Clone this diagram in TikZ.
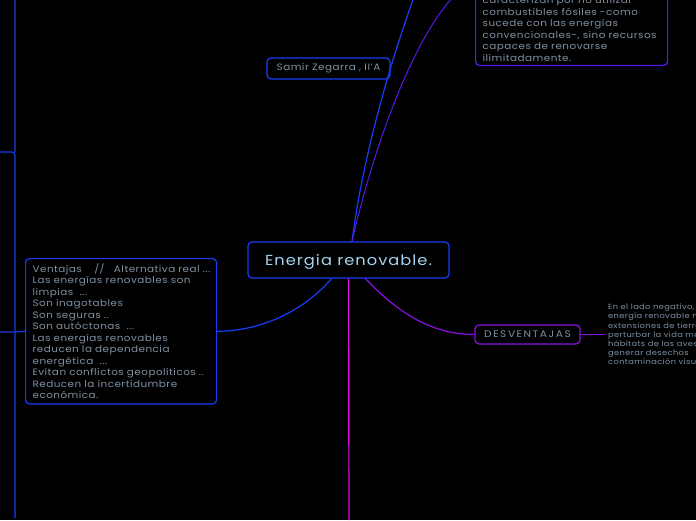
\documentclass[tikz,border=0pt]{standalone}
\usepackage{fontspec}
\setmainfont{Poppins}[FakeStretch=1.12, LetterSpace=5]
\newfontfamily\widefont{Poppins}[FakeStretch=1.12, LetterSpace=16]
\newfontfamily\mainfont{Poppins}[FakeStretch=1.12, LetterSpace=7]
\definecolor{cblue}{RGB}{22,62,250}
\definecolor{cdark}{RGB}{22,36,150}
\definecolor{cviolet}{RGB}{88,24,235}
\definecolor{cpurple}{RGB}{140,16,225}
\definecolor{cmag}{RGB}{228,12,228}
\definecolor{ctext}{RGB}{128,146,162}
\definecolor{cmain}{RGB}{165,212,240}
\begin{document}
\begin{tikzpicture}[x=1pt,y=-1pt,
  box/.style={draw, line width=1.2pt, rounded corners=4pt, fill=black, text=ctext, font=\fontsize{9.3}{11.5}\selectfont},
  blk/.style={align=left, inner xsep=7pt, inner ysep=5pt},
  conn/.style={line width=1.2pt},
]
\fill[black] (0,0) rectangle (696,520);
\useasboundingbox (0,0) rectangle (696,520);
\begin{scope}
\clip (0,0) rectangle (696,520);
% off-page link points
\coordinate (uplink) at (428,-40);
\coordinate (tlink) at (475,-20);
\coordinate (lt) at (15,0);
\coordinate (lk) at (15,152);
\coordinate (lkl) at (0,152);
\coordinate (lbot) at (15,518);
\coordinate (lm) at (15,332);
\coordinate (lml) at (0,332);
\coordinate (bot) at (349,520);

% nodes
\node[box, draw=cblue, text=cmain, font=\mainfont\fontsize{14.5}{16}\selectfont, minimum width=201pt, minimum height=36pt, text depth=0pt] (root) at (348.5,260) {Energia renovable.};
\node[box, draw=cblue, minimum width=123pt, minimum height=21pt, inner sep=2pt] (samir) at (328.5,68.5) {Samir Zegarra , II'A};
\node[box, draw=cblue, blk, anchor=north west, text width=177pt] (vent) at (25,258) {\mbox{Ventajas \ \ \ // \ \ Alternativa real ...}\\Las energías renovables son\\limpias \ ...\\Son inagotables\\Son seguras ..\\Son autóctonas \ ...\\Las energías renovables\\reducen la dependencia\\energética \ ...\\Evitan conflictos geopolíticos ..\\Reducen la incertidumbre\\económica.};
\node[box, draw=cviolet, blk, anchor=south west, text width=178pt, inner ysep=4pt] (topbox) at (475,66) {caracterizan por no utilizar\\combustibles fósiles -como\\sucede con las energías\\convencionales-, sino recursos\\capaces de renovarse\\ilimitadamente.};
\node[box, draw=cpurple, font=\widefont\fontsize{9.5}{11}\selectfont, minimum width=105pt, minimum height=19pt, inner sep=2pt] (desv) at (527.5,334.5) {DESVENTAJAS};
\node[anchor=west, align=left, text=ctext, inner sep=3pt, font=\fontsize{7.4}{9.2}\selectfont] (neg) at (605,334.5) {En el lado negativo, la\\energía renovable necesita\\extensiones de tierra\\perturbar la vida marina\\hábitats de las aves\\generar desechos\\contaminación visual.};

% connectors
\draw[conn, cblue] ([xshift=3.5pt]root.north) .. controls +(12,-95) and +(-30,75) .. (uplink);
\draw[conn, cviolet, line width=1pt] ([xshift=3.5pt]root.north) .. controls +(28,-122) and +(-45,20) .. (tlink);
\draw[conn, cblue] ([xshift=-17pt]root.south) .. controls +(-30,35) and +(40,0) .. (vent.east);
\draw[conn, cpurple] ([xshift=17pt]root.south) .. controls +(35,37) and +(-40,0) .. (desv.west);
\draw[conn, cmag] (root.south) -- (bot);
\draw[conn, cpurple, line width=1pt] (desv.east) -- (neg.west);
% left bracket lines
\draw[conn, cdark] (lt) -- (lk);
\draw[conn, cblue, rounded corners=3pt] (lkl) -- (lk) -- (lbot);
\draw[conn, cdark] (lml) -- (lm);
\draw[conn, cblue] (lm) -- (vent.west);
\end{scope}
\end{tikzpicture}
\end{document}
